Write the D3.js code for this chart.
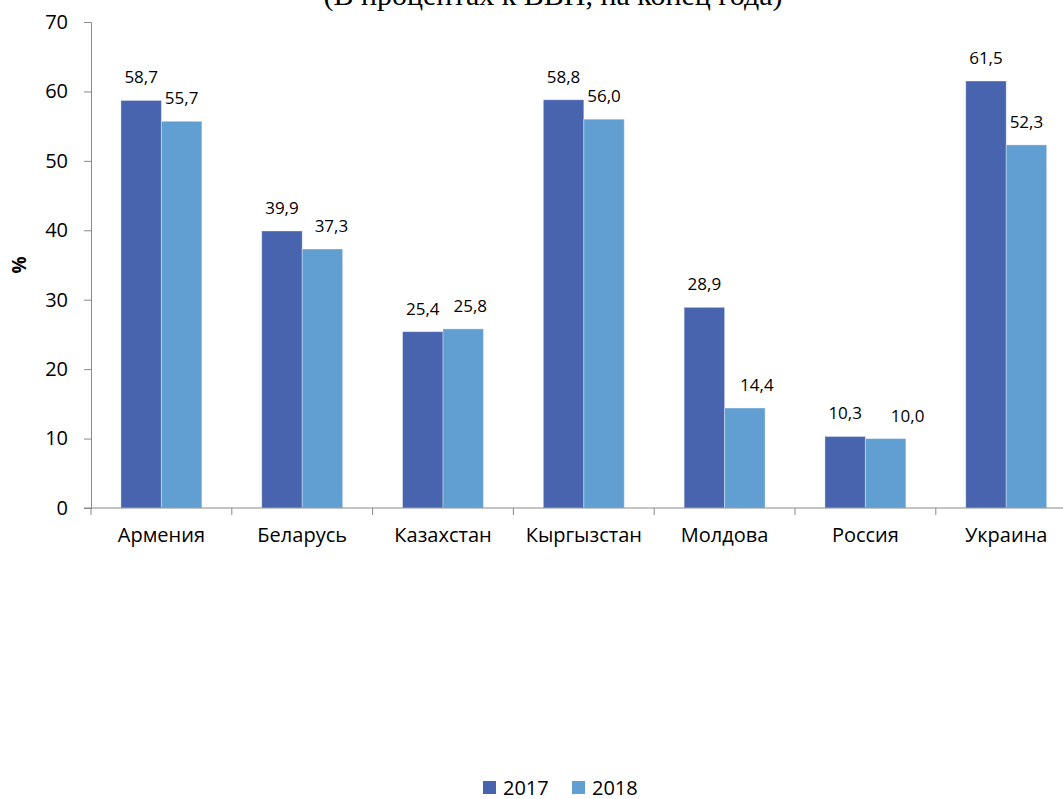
<!DOCTYPE html>
<html>
<head>
<meta charset="utf-8">
<script src="https://cdn.jsdelivr.net/npm/d3@7"></script>
<style>
  body { margin: 0; background: #fff; }
  svg { display: block; }
</style>
</head>
<body>
<div id="chart"></div>
<script>
const countries = ['Армения', 'Беларусь', 'Казахстан', 'Кыргызстан', 'Молдова', 'Россия', 'Украина']
const years = ['2017', '2018']
const values2017 = [58.7, 39.9, 25.4, 58.8, 28.9, 10.3, 61.5]
const values2018 = [55.7, 37.3, 25.8, 56.0, 14.4, 10.0, 52.3]
const yTicks = [0, 10, 20, 30, 40, 50, 60, 70]
const title = '(В процентах к ВВП, на конец года)'

// label nudges (px) for the 2018 labels, as placed in the original
const nudge2018 = [0, 9, 7, 0, 12, 22, 0]

const width = 1063
const height = 799
const margin = { top: 22, left: 91, bottom: 291 }
const plotH = height - margin.top - margin.bottom
const groupW = 140.8

const colors = { '2017': '#4864ae', '2018': '#619fd3' }
const font = "'Open Sans', 'Noto Sans', sans-serif"

const svg = d3
  .select('#chart')
  .append('svg')
  .attr('width', width)
  .attr('height', height)

const x0 = d3
  .scaleBand()
  .domain(countries)
  .range([margin.left, margin.left + groupW * countries.length])

const x1 = d3
  .scaleBand()
  .domain(years)
  .range([0, x0.bandwidth()])
  .paddingOuter(0.74)

const y = d3
  .scaleLinear()
  .domain([0, 70])
  .range([margin.top + plotH, margin.top])

const data = countries.map((c, i) => ({
  country: c,
  values: [
    { year: '2017', value: values2017[i], dx: 0 },
    { year: '2018', value: values2018[i], dx: nudge2018[i] }
  ]
}))

// title (cut off at the top of the picture, as in the original)
svg
  .append('text')
  .text(title)
  .attr('x', 553)
  .attr('y', 5)
  .attr('text-anchor', 'middle')
  .style('font-family', "'Liberation Serif', 'DejaVu Serif', serif")
  .style('font-size', '30px')
  .attr('fill', '#000')

// y axis
const yAxis = svg
  .append('g')
  .attr('transform', `translate(${margin.left},0)`)
  .call(d3.axisLeft(y).tickValues(yTicks).tickSize(7).tickPadding(16))
yAxis.select('.domain').attr('stroke', '#898989')
yAxis.selectAll('.tick line').attr('stroke', '#898989')
yAxis
  .selectAll('.tick text')
  .style('font-family', font)
  .style('font-size', '20px')
  .attr('fill', '#000')

svg
  .append('text')
  .text('%')
  .attr('transform', `translate(26,${y(35)}) rotate(-90)`)
  .attr('text-anchor', 'middle')
  .style('font-family', font)
  .style('font-size', '19px')
  .style('font-weight', 'bold')

// bars
const groups = svg
  .selectAll('.group')
  .data(data)
  .enter()
  .append('g')
  .attr('class', 'group')
  .attr('transform', d => `translate(${x0(d.country)},0)`)

groups
  .selectAll('rect')
  .data(d => d.values)
  .enter()
  .append('rect')
  .attr('x', d => x1(d.year))
  .attr('y', d => y(d.value))
  .attr('width', x1.bandwidth())
  .attr('height', d => y(0) - y(d.value))
  .attr('fill', d => colors[d.year])
  .attr('stroke', '#ffffff')
  .attr('stroke-opacity', 0.35)
  .attr('stroke-width', 1)

groups
  .selectAll('.label')
  .data(d => d.values)
  .enter()
  .append('text')
  .attr('class', 'label')
  .text(d => d3.format('.1f')(d.value).replace('.', ','))
  .attr('x', d => x1(d.year) + x1.bandwidth() / 2 + d.dx)
  .attr('y', d => y(d.value) - 17)
  .attr('text-anchor', 'middle')
  .style('font-family', font)
  .style('font-size', '17px')
  .attr('fill', '#000')

// x axis with ticks between categories
const xAxis = svg
  .append('g')
  .attr('transform', `translate(0,${y(0)})`)
  .call(d3.axisBottom(x0).tickSize(0).tickPadding(20))
xAxis.select('.domain').remove()
xAxis
  .selectAll('.tick text')
  .style('font-family', font)
  .style('font-size', '20px')
  .attr('fill', '#000')

xAxis
  .append('line')
  .attr('x1', margin.left - 7)
  .attr('x2', x0.range()[1])
  .attr('stroke', '#898989')

xAxis
  .selectAll('.sep')
  .data(countries.concat(['end']))
  .enter()
  .append('line')
  .attr('class', 'sep')
  .attr('x1', (d, i) => margin.left + groupW * i)
  .attr('x2', (d, i) => margin.left + groupW * i)
  .attr('y1', 0)
  .attr('y2', 7)
  .attr('stroke', '#898989')

// legend
const legend = svg
  .append('g')
  .attr('transform', 'translate(483,781)')

const legendItems = legend
  .selectAll('g')
  .data(years)
  .enter()
  .append('g')
  .attr('transform', (d, i) => `translate(${i * 89},0)`)

legendItems
  .append('rect')
  .attr('width', 13)
  .attr('height', 13)
  .attr('fill', d => colors[d])

legendItems
  .append('text')
  .text(d => d)
  .attr('x', 20)
  .attr('y', 14)
  .style('font-family', font)
  .style('font-size', '20px')
  .attr('fill', '#000')
</script>
</body>
</html>
